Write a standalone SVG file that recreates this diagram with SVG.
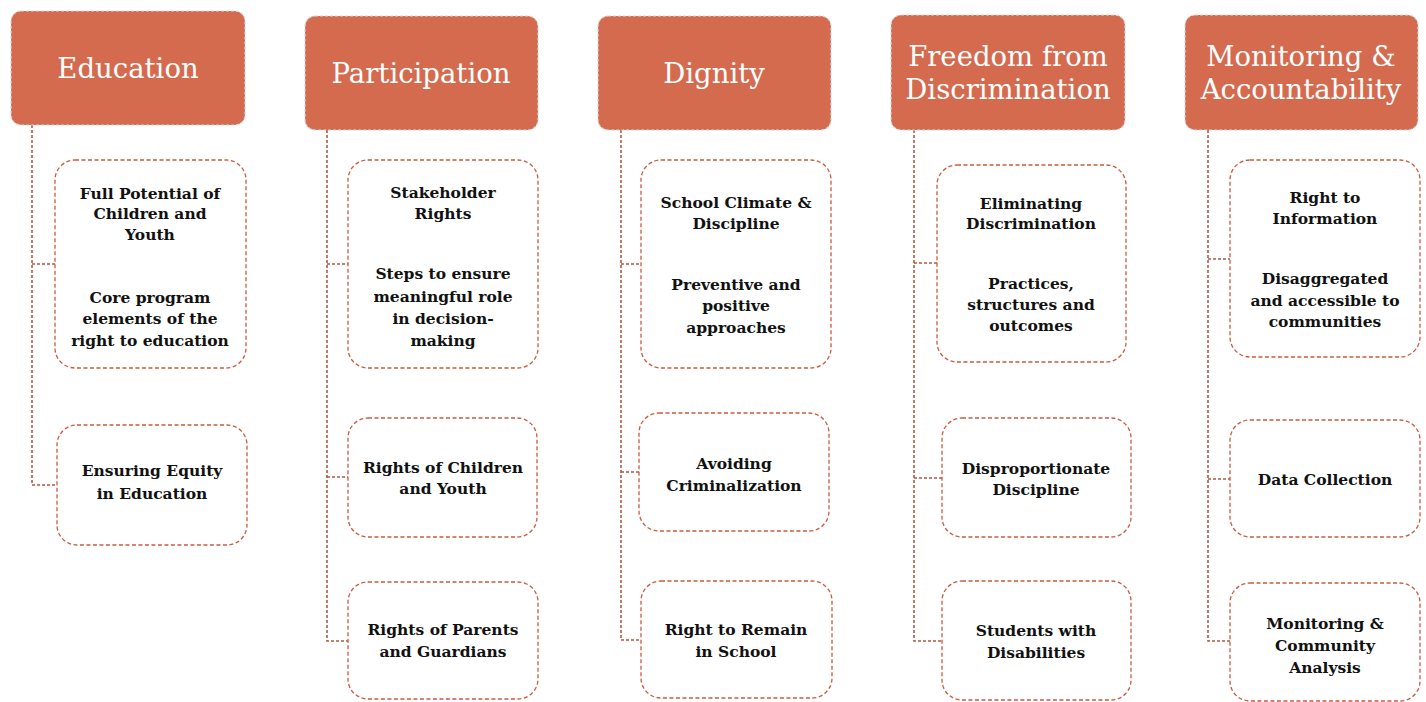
<svg xmlns="http://www.w3.org/2000/svg" width="1426" height="702" viewBox="0 0 1426 702">
<style>
.hdr{fill:#D46B4F;stroke:#d8d8d8;stroke-width:1.2;stroke-dasharray:3 2}
.ht{font-family:"DejaVu Serif","Liberation Serif",serif;font-size:27.5px;fill:#fff;text-anchor:middle}
.box{fill:#fff;stroke:#CC5A3E;stroke-width:1.3;stroke-dasharray:4 2.5}
.bt{font-family:"DejaVu Serif","Liberation Serif",serif;font-size:15.5px;font-weight:bold;fill:#111;text-anchor:middle}
.con{fill:none;stroke:#B05A42;stroke-width:1.6;stroke-dasharray:3 2}
</style>
<rect width="1426" height="702" fill="#fff"/>
<g id="connectors">
<path class="con" d="M32 125V485H55M32 264H55"/>
<path class="con" d="M327 130V641H348M327 264H348M327 477H348"/>
<path class="con" d="M621 130V640H641M621 264H641M621 472H639"/>
<path class="con" d="M914 130V641H942M914 263H937M914 478H942"/>
<path class="con" d="M1208 130V641H1230M1208 259H1230M1208 479H1230"/>
</g>
<g id="h-education"><rect class="hdr" x="11" y="11" width="234" height="114" rx="10"/><text class="ht" x="128" y="78">Education</text></g>
<g id="h-participation"><rect class="hdr" x="305" y="16" width="233" height="114" rx="10"/><text class="ht" x="421" y="83">Participation</text></g>
<g id="h-dignity"><rect class="hdr" x="598" y="16" width="233" height="114" rx="10"/><text class="ht" x="714" y="83">Dignity</text></g>
<g id="h-freedom"><rect class="hdr" x="891" y="15" width="234" height="115" rx="10"/><text class="ht" x="1008" y="66">Freedom from</text><text class="ht" x="1008" y="99">Discrimination</text></g>
<g id="h-monitoring"><rect class="hdr" x="1185" y="15" width="233" height="115" rx="10"/><text class="ht" x="1301" y="66">Monitoring &amp;</text><text class="ht" x="1301" y="99">Accountability</text></g>

<g id="education-1"><rect class="box" x="55" y="160" width="191" height="208" rx="20"/>
<text class="bt" x="150" y="199">Full Potential of</text><text class="bt" x="150" y="219">Children and</text><text class="bt" x="150" y="240">Youth</text>
<text class="bt" x="150" y="303">Core program</text><text class="bt" x="150" y="324">elements of the</text><text class="bt" x="150" y="346">right to education</text></g>
<g id="education-2"><rect class="box" x="57" y="425" width="190" height="120" rx="20"/>
<text class="bt" x="152" y="476">Ensuring Equity</text><text class="bt" x="152" y="499">in Education</text></g>

<g id="participation-1"><rect class="box" x="348" y="160" width="190" height="208" rx="20"/>
<text class="bt" x="443" y="198">Stakeholder</text><text class="bt" x="443" y="219">Rights</text>
<text class="bt" x="443" y="279">Steps to ensure</text><text class="bt" x="443" y="302">meaningful role</text><text class="bt" x="443" y="324">in decision-</text><text class="bt" x="443" y="346">making</text></g>
<g id="participation-2"><rect class="box" x="348" y="418" width="189" height="119" rx="20"/>
<text class="bt" x="443" y="473">Rights of Children</text><text class="bt" x="443" y="494">and Youth</text></g>
<g id="participation-3"><rect class="box" x="348" y="582" width="190" height="117" rx="20"/>
<text class="bt" x="443" y="635">Rights of Parents</text><text class="bt" x="443" y="657">and Guardians</text></g>

<g id="dignity-1"><rect class="box" x="641" y="160" width="190" height="208" rx="20"/>
<text class="bt" x="736" y="208">School Climate &amp;</text><text class="bt" x="736" y="229">Discipline</text>
<text class="bt" x="736" y="290">Preventive and</text><text class="bt" x="736" y="311">positive</text><text class="bt" x="736" y="333">approaches</text></g>
<g id="dignity-2"><rect class="box" x="639" y="413" width="190" height="118" rx="20"/>
<text class="bt" x="734" y="469">Avoiding</text><text class="bt" x="734" y="491">Criminalization</text></g>
<g id="dignity-3"><rect class="box" x="641" y="581" width="191" height="117" rx="20"/>
<text class="bt" x="736" y="635">Right to Remain</text><text class="bt" x="736" y="657">in School</text></g>

<g id="freedom-1"><rect class="box" x="937" y="165" width="189" height="197" rx="20"/>
<text class="bt" x="1031" y="209">Eliminating</text><text class="bt" x="1031" y="229">Discrimination</text>
<text class="bt" x="1031" y="289">Practices,</text><text class="bt" x="1031" y="310">structures and</text><text class="bt" x="1031" y="331">outcomes</text></g>
<g id="freedom-2"><rect class="box" x="942" y="418" width="189" height="119" rx="20"/>
<text class="bt" x="1036" y="474">Disproportionate</text><text class="bt" x="1036" y="495">Discipline</text></g>
<g id="freedom-3"><rect class="box" x="942" y="581" width="189" height="119" rx="20"/>
<text class="bt" x="1036" y="636">Students with</text><text class="bt" x="1036" y="658">Disabilities</text></g>

<g id="monitoring-1"><rect class="box" x="1230" y="160" width="190" height="197" rx="20"/>
<text class="bt" x="1325" y="203">Right to</text><text class="bt" x="1325" y="224">Information</text>
<text class="bt" x="1325" y="284">Disaggregated</text><text class="bt" x="1325" y="306">and accessible to</text><text class="bt" x="1325" y="327">communities</text></g>
<g id="monitoring-2"><rect class="box" x="1230" y="420" width="190" height="117" rx="20"/>
<text class="bt" x="1325" y="485">Data Collection</text></g>
<g id="monitoring-3"><rect class="box" x="1230" y="583" width="190" height="118" rx="20"/>
<text class="bt" x="1325" y="629">Monitoring &amp;</text><text class="bt" x="1325" y="651">Community</text><text class="bt" x="1325" y="673">Analysis</text></g>
</svg>
